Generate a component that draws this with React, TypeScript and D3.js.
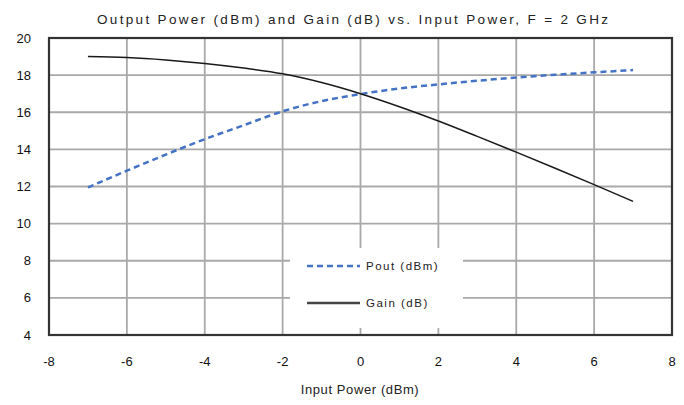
import React, { useEffect, useRef } from 'react';
import * as d3 from 'd3';

const inputPower = [-7, -6, -5, -4, -3, -2, -1, 0, 1, 2, 3, 4, 5, 6, 7];
const poutDbm = [11.95, 12.85, 13.72, 14.55, 15.3, 16.05, 16.6, 16.98, 17.28, 17.5, 17.7, 17.87, 18.02, 18.15, 18.27];
const gainDb = [19.0, 18.95, 18.82, 18.63, 18.38, 18.07, 17.6, 17.0, 16.3, 15.53, 14.7, 13.85, 12.98, 12.1, 11.2];
const xTicks = [-8, -6, -4, -2, 0, 2, 4, 6, 8];
const yTicks = [4, 6, 8, 10, 12, 14, 16, 18, 20];

const chartTitle = 'Output Power (dBm) and Gain (dB) vs. Input Power, F = 2 GHz';
const xTitle = 'Input Power (dBm)';
const seriesNames = ['Pout (dBm)', 'Gain (dB)'];

const W = 684;
const H = 405;
const FONT = 'Liberation Sans, Arial, sans-serif';

const App = () => {
  const svgRef = useRef<SVGSVGElement>(null);

  useEffect(() => {
    const svg = d3.select(svgRef.current);
    svg.selectAll('*').remove();

    const left = 49;
    const right = 672;
    const top = 38;
    const bottom = 335;

    const x = d3.scaleLinear().domain([-8, 8]).range([left, right]);
    const y = d3.scaleLinear().domain([4, 20]).range([bottom, top]);

    svg.append('rect').attr('width', W).attr('height', H).attr('fill', '#fff');

    // grid
    const grid = svg.append('g').attr('stroke', '#a9a9a9').attr('stroke-width', 1.8);
    grid
      .selectAll('.vg')
      .data(xTicks.slice(1, -1))
      .enter()
      .append('line')
      .attr('x1', (d) => x(d))
      .attr('x2', (d) => x(d))
      .attr('y1', top)
      .attr('y2', bottom);
    grid
      .selectAll('.hg')
      .data(yTicks.slice(1, -1))
      .enter()
      .append('line')
      .attr('x1', left)
      .attr('x2', right)
      .attr('y1', (d) => y(d))
      .attr('y2', (d) => y(d));

    const line = d3
      .line<number>()
      .x((_, i) => x(inputPower[i]))
      .y((d) => y(d))
      .curve(d3.curveMonotoneX);

    svg
      .append('path')
      .attr('d', line(poutDbm))
      .attr('fill', 'none')
      .attr('stroke', '#4472c4')
      .attr('stroke-width', 2.5)
      .attr('stroke-dasharray', '6,4');

    svg
      .append('path')
      .attr('d', line(gainDb))
      .attr('fill', 'none')
      .attr('stroke', '#1a1a1a')
      .attr('stroke-width', 1.5);

    // legend box
    const lg = svg.append('g');
    lg.append('rect').attr('x', 290).attr('y', 248).attr('width', 173).attr('height', 80).attr('fill', '#fff');
    const legendItems = [
      { name: seriesNames[0], color: '#4472c4', dash: '6,4', width: 2.5, yy: 266 },
      { name: seriesNames[1], color: '#444', dash: null, width: 2.5, yy: 303 },
    ];
    legendItems.forEach((it) => {
      lg.append('line')
        .attr('x1', 307)
        .attr('x2', 360)
        .attr('y1', it.yy)
        .attr('y2', it.yy)
        .attr('stroke', it.color)
        .attr('stroke-width', it.width)
        .attr('stroke-dasharray', it.dash);
      lg.append('text')
        .attr('x', 366)
        .attr('y', it.yy + 4)
        .attr('font-family', FONT)
        .attr('font-size', 11.5)
        .attr('letter-spacing', 1.5)
        .attr('fill', '#222')
        .text(it.name);
    });

    // frame
    svg
      .append('rect')
      .attr('x', left)
      .attr('y', top)
      .attr('width', right - left)
      .attr('height', bottom - top)
      .attr('fill', 'none')
      .attr('stroke', '#333')
      .attr('stroke-width', 2.2);

    // tick labels
    svg
      .selectAll('.xt')
      .data(xTicks)
      .enter()
      .append('text')
      .attr('x', (d) => x(d))
      .attr('y', 366)
      .attr('text-anchor', 'middle')
      .attr('font-family', FONT)
      .attr('font-size', 13)
      .attr('fill', '#111')
      .text((d) => String(d));

    svg
      .selectAll('.yt')
      .data(yTicks)
      .enter()
      .append('text')
      .attr('x', 31)
      .attr('y', (d) => y(d) + 4.5)
      .attr('text-anchor', 'end')
      .attr('font-family', FONT)
      .attr('font-size', 13)
      .attr('fill', '#111')
      .text((d) => String(d));

    svg
      .append('text')
      .attr('x', 360)
      .attr('y', 394)
      .attr('text-anchor', 'middle')
      .attr('font-family', FONT)
      .attr('font-size', 13)
      .attr('letter-spacing', 0.6)
      .attr('fill', '#222')
      .text(xTitle);

    svg
      .append('text')
      .attr('x', 97)
      .attr('y', 24)
      .attr('font-family', FONT)
      .attr('font-size', 13.5)
      .attr('textLength', 511)
      .attr('lengthAdjust', 'spacing')
      .attr('fill', '#222')
      .text(chartTitle);
  }, []);

  return (
    <svg
      ref={svgRef}
      width={W}
      height={H}
      style={{ position: 'absolute', left: 0, top: 0, display: 'block' }}
    />
  );
};

export default App;
